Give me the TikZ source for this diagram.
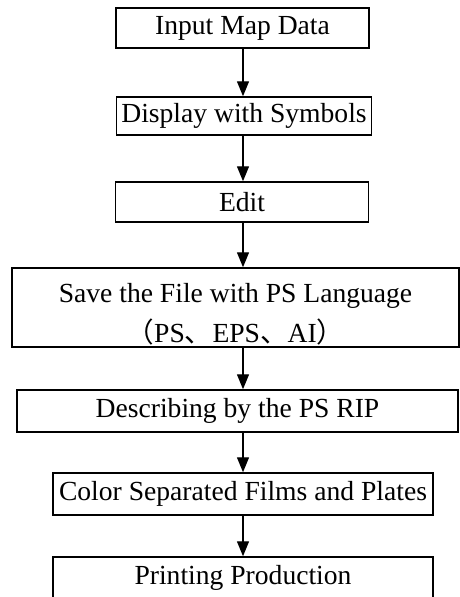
\documentclass[tikz,border=0pt]{standalone}
\usepackage{fontspec}
\setmainfont{Liberation Serif}
\newfontfamily\cjk{Noto Sans CJK SC}
\usetikzlibrary{arrows.meta}
\begin{document}
\begin{tikzpicture}[x=1pt,y=-1pt,
  stepbox/.style={draw, line width=1.5pt, rectangle, inner sep=0pt, align=center,
    font=\fontsize{27.6}{40}\selectfont},
  arr/.style={line width=1.4pt, -{Triangle[length=15pt,width=12pt]}}]
\useasboundingbox (0,0) rectangle (460,597);
\node[stepbox, minimum width=253pt, minimum height=40pt] (b1) at (242.5,28) {Input Map Data};
\node[stepbox, minimum width=255pt, minimum height=38pt] (b2) at (244,116) {Display with Symbols};
\node[stepbox, minimum width=253pt, minimum height=40pt] (b3) at (242,202) {Edit};
\node[stepbox, minimum width=447pt, minimum height=79pt] (b4) at (235.5,307.5) {\rule{0pt}{32pt}Save the File with PS Language\\{\cjk （}PS{\cjk 、}EPS{\cjk 、}AI{\cjk ）}};
\node[stepbox, minimum width=441pt, minimum height=42pt] (b5) at (237.5,411) {Describing by the PS RIP};
\node[stepbox, minimum width=380pt, minimum height=42pt] (b6) at (243,494) {Color Separated Films and Plates};
\node[stepbox, minimum width=380pt, minimum height=42pt] (b7) at (243,578) {Printing Production};
\coordinate (ax) at (243,0);
\draw[arr] (b1.south -| ax) -- (b2.north -| ax);
\draw[arr] (b2.south -| ax) -- (b3.north -| ax);
\draw[arr] (b3.south -| ax) -- (b4.north -| ax);
\draw[arr] (b4.south -| ax) -- (b5.north -| ax);
\draw[arr] (b5.south -| ax) -- (b6.north -| ax);
\draw[arr] (b6.south -| ax) -- (b7.north -| ax);
\end{tikzpicture}
\end{document}
